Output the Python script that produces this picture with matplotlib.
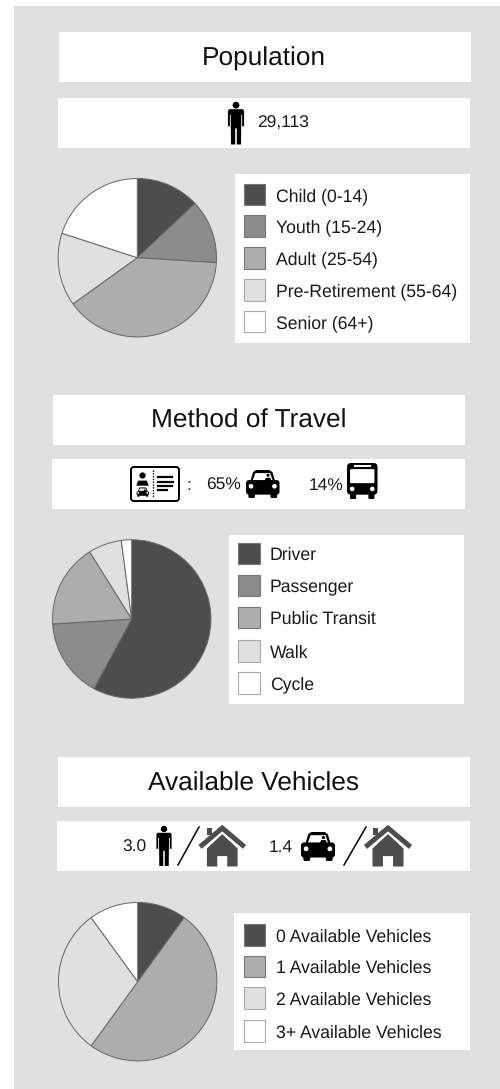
#Three demographic pie panels with legends and small pictograms, saved to out.png
import matplotlib
matplotlib.use('Agg')
import matplotlib.pyplot as plt
import matplotlib.patches as patches

plt.rcParams['font.family'] = ['Liberation Sans', 'DejaVu Sans']
plt.rcParams['text.hinting'] = 'none'

W, H = 500, 1089

titles = ['Population', 'Method of Travel', 'Available Vehicles']

age_labels = ['Child (0-14)', 'Youth (15-24)', 'Adult (25-54)', 'Pre-Retirement (55-64)', 'Senior (64+)']
age_values = [13.0, 13.0, 39.1, 14.9, 20.0]

travel_labels = ['Driver', 'Passenger', 'Public Transit', 'Walk', 'Cycle']
travel_values = [57.9, 16.1, 17.1, 6.8, 2.1]

vehicle_labels = ['0 Available Vehicles', '1 Available Vehicles', '2 Available Vehicles', '3+ Available Vehicles']
vehicle_values = [10.0, 50.0, 30.0, 10.0]

DARK = '#4d4d4d'
MID = '#8c8c8c'
LIGHT = '#adadad'
PALE = '#e0e0e0'
age_colors = [DARK, MID, LIGHT, PALE, 'white']
travel_colors = [DARK, MID, LIGHT, PALE, 'white']
vehicle_colors = [DARK, LIGHT, PALE, 'white']

fig = plt.figure(figsize=(W / 100, H / 100), dpi=100)
ax = fig.add_axes([0, 0, 1, 1])
ax.set_xlim(0, W)
ax.set_ylim(H, 0)
ax.axis('off')


def rect(x0, y0, x1, y1, color='white', **kw):
    ax.add_patch(patches.Rectangle((x0, y0), x1 - x0, y1 - y0, fc=color, ec='none', **kw))


def rrect(x0, y0, x1, y1, r, color='black', z=3):
    ax.add_patch(patches.FancyBboxPatch((x0 + r, y0 + r), x1 - x0 - 2 * r, y1 - y0 - 2 * r,
                                        boxstyle='round,pad=%f' % r, fc=color, ec='none', zorder=z))


def unit_poly(x, y, w, h, pts, color='black', z=3):
    ax.add_patch(patches.Polygon([(x + a * w, y + b * h) for a, b in pts], closed=True,
                                 fc=color, ec='none', zorder=z))


def person(cx, top, hgt):
    w = hgt * 0.38
    x = cx - w / 2
    ax.add_patch(patches.Circle((cx, top + hgt * 0.075), hgt * 0.08, fc='black', ec='none', zorder=3))
    unit_poly(x, top, w, hgt, [(.06, .17), (.94, .17), (1, .22), (1, .57), (.88, .57), (.88, .3), (.83, .3),
                               (.81, 1), (.55, 1), (.55, .62), (.45, .62), (.45, 1), (.19, 1), (.17, .3),
                               (.12, .3), (.12, .57), (0, .57), (0, .22)])


def car(x, y, w, h):
    unit_poly(x, y, w, h, [(.12, .44), (.21, .08), (.3, 0), (.7, 0), (.79, .08), (.88, .44)])
    unit_poly(x, y, w, h, [(.2, .38), (.28, .11), (.72, .11), (.8, .38)], 'white', 4)
    ax.add_patch(patches.Circle((x + .66 * w, y + .19 * h), .045 * w, fc='black', ec='none', zorder=5))
    unit_poly(x, y, w, h, [(.56, .38), (.59, .28), (.73, .28), (.76, .38)], 'black', 5)
    rrect(x, y + .36 * h, x + w, y + .88 * h, 3, 'black', 6)
    rrect(x + .07 * w, y + .75 * h, x + .27 * w, y + h, 1.5)
    rrect(x + .73 * w, y + .75 * h, x + .93 * w, y + h, 1.5)
    for a in (.15, .85):
        ax.add_patch(patches.Circle((x + a * w, y + .58 * h), .07 * w, fc='white', ec='none', zorder=7))


def bus(x, y, w, h):
    rrect(x, y, x + w, y + .88 * h, 4)
    rrect(x + .1 * w, y + .17 * h, x + .9 * w, y + .56 * h, 1, 'white', 4)
    rect(x + .22 * w, y + .06 * h, x + .78 * w, y + .1 * h, 'white', zorder=4)
    rrect(x + .1 * w, y + .82 * h, x + .3 * w, y + h, 1)
    rrect(x + .7 * w, y + .82 * h, x + .9 * w, y + h, 1)
    for a in (.17, .83):
        ax.add_patch(patches.Circle((x + a * w, y + .72 * h), .075 * w, fc='white', ec='none', zorder=4))


def house(x, y, w, h):
    rect(x + .14 * w, y + .03 * h, x + .26 * w, y + .2 * h, DARK, zorder=3)
    ax.plot([x + .01 * w, x + .5 * w, x + .99 * w], [y + .47 * h, y + .04 * h, y + .47 * h],
            color=DARK, lw=3.6, solid_joinstyle='miter', zorder=3)
    unit_poly(x, y, w, h, [(.13, .55), (.5, .19), (.87, .55), (.87, 1), (.62, 1), (.62, .74),
                           (.38, .74), (.38, 1), (.13, 1)], DARK)


def licence(x, y, w, h):
    ax.add_patch(patches.FancyBboxPatch((x + 3, y + 3), w - 6, h - 6, boxstyle='round,pad=3',
                                        fc='white', ec='black', lw=1.4, zorder=3))
    ax.plot([x + .45 * w] * 2, [y + 3, y + h - 3], color='black', lw=1, ls=(0, (1, 1)), zorder=4)
    ax.add_patch(patches.Circle((x + .24 * w, y + .25 * h), .065 * w, fc='black', ec='none', zorder=4))
    unit_poly(x, y, w, h, [(.11, .55), (.15, .4), (.33, .4), (.37, .55)])
    car(x + .11 * w, y + .6 * h, .27 * w, .28 * h)
    for b, e in ((.3, .85), (.43, .88), (.56, .85), (.69, .76)):
        ax.plot([x + .56 * w, x + e * w], [y + b * h] * 2, color='black', lw=1.6, zorder=4)


def pie_panel(cx, cy, r, values, colors):
    pax = fig.add_axes([(cx - r) / W, 1 - (cy + r) / H, 2 * r / W, 2 * r / H])
    pax.pie(values, colors=colors, startangle=90, counterclock=False, radius=1,
            wedgeprops={'edgecolor': '#666666', 'linewidth': 0.7})
    pax.set_xlim(-1.01, 1.01)
    pax.set_ylim(-1.01, 1.01)
    pax.patch.set_alpha(0)


def legend_panel(x0, y0, x1, y1, swatch_x, swatch_ys, labels, colors):
    rect(x0, y0, x1, y1)
    for sy, lab, col in zip(swatch_ys, labels, colors):
        ec = '#777777' if col in (DARK, MID, LIGHT) else '#aaaaaa'
        ax.add_patch(patches.Rectangle((swatch_x, sy), 21.5, 21.5, fc=col, ec=ec, lw=0.8, zorder=3))
        ax.text(swatch_x + 32, sy + 17.4, lab, fontsize=12.68, color='#1a1a1a', va='baseline', zorder=3)


def label(x, y, s, size=12.5):
    ax.text(x, y, s, fontsize=size, color='#1a1a1a', va='baseline', zorder=3)


def title(x, y, s):
    ax.text(x, y, s, fontsize=18.9, color='#111111', ha='center', va='baseline', zorder=3)


# background
rect(14, 6, W, H, PALE)

# Population
rect(59, 32, 471, 82)
title(264, 65.5, titles[0])
rect(58, 97.5, 470, 147.5)
person(236, 102, 42.5)
label(257, 128.3, '29,113')
pie_panel(137.3, 257.7, 80, age_values, age_colors)
legend_panel(234.5, 173.5, 469.5, 343, 243.5, [183.5, 215, 247, 279, 310.5], age_labels, age_colors)

# Method of Travel
rect(52.5, 395, 464.5, 445)
title(248.5, 428, titles[1])
rect(52, 459, 465, 509)
licence(131, 467, 48, 34)
label(186.5, 490, ':')
label(206, 490, '65%')
car(246, 470, 33.5, 28)
label(309, 490, '14%')
bus(347, 463, 30.5, 36)
pie_panel(131.7, 619, 80, travel_values, travel_colors)
legend_panel(229, 534.5, 464, 704, 238, [542.5, 574.5, 606.5, 640, 672], travel_labels, travel_colors)

# Available Vehicles
rect(58, 757, 470, 807)
title(254, 790.5, titles[2])
rect(57, 821, 470, 871)
label(122.5, 852.3, '3.0')
person(164, 826, 40)
ax.plot([199, 178], [827, 865], color='black', lw=1.1, zorder=3)
house(201.5, 826.5, 41.5, 40)
label(269, 852.3, '1.4')
car(301, 832, 34, 29)
ax.plot([366, 344], [827, 865], color='black', lw=1.1, zorder=3)
house(367, 826.5, 42, 40)
pie_panel(137.7, 981.7, 80, vehicle_values, vehicle_colors)
legend_panel(234, 913, 470, 1050, 243.5, [924, 955.5, 987, 1020], vehicle_labels, vehicle_colors)

plt.savefig('out.png', dpi=100)
